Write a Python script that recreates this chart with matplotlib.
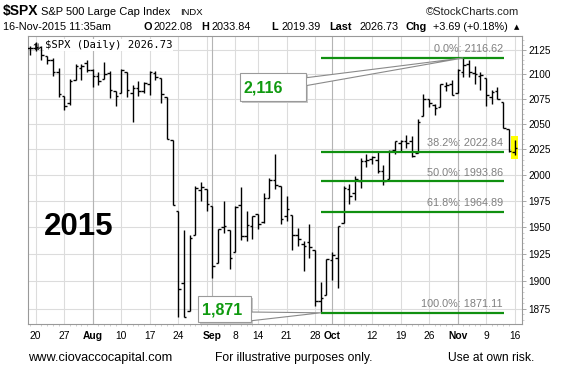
import matplotlib
matplotlib.use('Agg')
import matplotlib.pyplot as plt
from matplotlib.patches import Polygon, Rectangle
import numpy as np
import pandas as pd

W, H = 577, 373

# trading days shown (Labor Day removed)
dates = [d for d in pd.bdate_range('2015-07-17', '2015-11-16') if d != pd.Timestamp('2015-09-07')]

opens = [2126.8, 2126.9, 2127.6, 2118.2, 2114.2, 2102.2, 2078.2, 2070.8, 2094.1, 2106.8, 2111.6,
         2104.5, 2097.7, 2095.3, 2100.8, 2082.6, 2081.0, 2102.7, 2081.1, 2086.2, 2083.2,
         2089.7, 2101.4, 2095.7, 2076.6, 2034.1, 1965.2, 1898.1, 1872.8, 1942.8, 1986.1, 1986.7,
         1970.1, 1916.5, 1950.8, 1947.8, 1927.3, 1971.5, 1941.6, 1951.5, 1963.1, 1955.1, 1978.0,
         1995.3, 1989.7, 1960.8, 1961.4, 1943.2, 1934.8, 1935.9, 1929.2, 1881.9, 1887.1,
         1919.7, 1921.8, 1954.3, 1986.6, 1982.3, 1994.0, 2013.7, 2015.7, 2015.0, 2003.7, 1996.5,
         2024.4, 2031.7, 2033.1, 2033.5, 2021.9, 2058.2, 2075.1, 2068.8, 2066.5, 2088.4, 2090.0,
         2080.8, 2102.6, 2110.6, 2101.7, 2098.6, 2096.6, 2077.2, 2083.4, 2072.3, 2044.6, 2022.1]
highs = [2128.9, 2132.8, 2128.4, 2118.5, 2116.9, 2106.0, 2078.2, 2095.6, 2110.6, 2110.5, 2114.2,
         2105.7, 2102.5, 2112.7, 2103.3, 2082.6, 2105.4, 2102.7, 2089.1, 2092.9, 2092.5,
         2102.9, 2103.5, 2096.2, 2076.6, 2034.1, 1965.2, 1948.0, 1943.1, 1989.6, 1993.5, 1986.7,
         1970.1, 1948.9, 1975.0, 1947.8, 1970.4, 1988.6, 1965.3, 1961.1, 1963.1, 1983.2, 1997.3,
         2020.9, 1989.7, 1979.6, 1961.4, 1949.5, 1937.2, 1952.9, 1929.2, 1899.5, 1920.5,
         1927.2, 1951.4, 1989.2, 1991.6, 1999.3, 2016.5, 2020.1, 2018.7, 2022.3, 2009.6, 2024.2,
         2033.5, 2034.5, 2039.1, 2038.0, 2055.2, 2079.7, 2075.1, 2070.4, 2090.4, 2092.5, 2094.3,
         2105.2, 2116.6, 2114.6, 2108.8, 2101.9, 2096.6, 2083.7, 2086.9, 2072.3, 2044.6, 2033.8]
lows = [2119.9, 2123.7, 2114.0, 2110.0, 2098.6, 2077.1, 2063.5, 2069.1, 2094.1, 2094.1, 2102.1,
        2087.3, 2088.6, 2095.3, 2075.5, 2067.9, 2081.0, 2076.5, 2052.1, 2078.3, 2080.6,
        2079.3, 2094.1, 2070.5, 2035.7, 1971.0, 1867.0, 1867.1, 1872.8, 1942.8, 1975.2, 1966.0,
        1903.1, 1916.5, 1944.7, 1911.2, 1927.3, 1937.9, 1937.2, 1939.2, 1948.3, 1954.3, 1977.9,
        1986.7, 1953.5, 1955.8, 1929.2, 1932.6, 1908.9, 1921.5, 1876.9, 1871.1, 1887.1,
        1900.7, 1893.7, 1954.3, 1972.0, 1976.4, 1987.5, 2007.6, 2010.6, 2001.8, 1990.7, 1996.5,
        2020.5, 2022.3, 2026.6, 2017.2, 2021.9, 2058.2, 2066.5, 2058.8, 2066.5, 2082.6, 2079.3,
        2080.8, 2097.5, 2097.0, 2090.4, 2083.7, 2068.2, 2069.9, 2074.9, 2045.7, 2022.0, 2019.4]
closes = [2126.6, 2128.3, 2119.2, 2114.2, 2102.2, 2079.7, 2067.6, 2093.3, 2108.6, 2108.6, 2103.8,
          2098.0, 2093.3, 2099.8, 2083.6, 2077.6, 2104.2, 2084.1, 2086.1, 2083.4, 2091.5,
          2102.4, 2096.9, 2079.6, 2035.7, 1970.9, 1893.2, 1867.6, 1940.5, 1987.7, 1988.9, 1972.2,
          1913.9, 1948.9, 1951.1, 1921.2, 1969.4, 1942.0, 1952.3, 1961.1, 1953.0, 1978.1, 1995.3,
          1990.2, 1958.0, 1967.0, 1942.7, 1938.8, 1932.2, 1931.3, 1881.8, 1884.1, 1920.0,
          1923.8, 1951.4, 1987.1, 1979.9, 1995.8, 2013.4, 2014.9, 2017.5, 2003.7, 1994.2, 2023.9,
          2033.1, 2033.7, 2030.8, 2018.9, 2052.5, 2075.2, 2071.2, 2065.9, 2090.4, 2089.4, 2079.4,
          2104.1, 2109.8, 2102.3, 2099.9, 2099.2, 2078.6, 2081.7, 2075.0, 2046.0, 2023.0, 2026.7]

fib_pct = ['0.0%', '38.2%', '50.0%', '61.8%', '100.0%']
fib_val = [2116.62, 2022.84, 1993.86, 1964.89, 1871.11]
swing_high_date = '2015-11-03'
swing_low_date = '2015-09-29'
y_ticks = [1875, 1900, 1925, 1950, 1975, 2000, 2025, 2050, 2075, 2100, 2125]


def fx(x):
    return x / W


def fy(y):
    return 1 - y / H


fig = plt.figure(figsize=(W / 100, H / 100), dpi=100)
plt.rcParams['font.family'] = ['Liberation Sans', 'DejaVu Sans']
ax = fig.add_axes([fx(28), fy(324), fx(522 - 28), (324 - 36) / H])
ax.set_yscale('log')
ax.set_ylim(1861.0, 2139.2)
ax.set_xlim(-0.35, 86.3)

x = np.arange(len(dates))
hi_i = dates.index(pd.Timestamp(swing_high_date))
lo_i = dates.index(pd.Timestamp(swing_low_date))

# week / month grid and labels
week_idx, month_idx = [], []
for i, d in enumerate(dates):
    if i == 0:
        continue
    if d.month != dates[i - 1].month:
        month_idx.append(i)
    if d.weekday() < dates[i - 1].weekday():
        week_idx.append(i)
for i in y_ticks:
    ax.axhline(i, color='#dcdcdc', lw=0.8, zorder=0)
for i in week_idx:
    ax.axvline(i, color='#dcdcdc', lw=0.8, zorder=0)
for i in month_idx:
    ax.axvline(i, color='#b4b4b4', lw=0.8, zorder=0)

# OHLC bars
ax.vlines(x, lows, highs, color='black', lw=1.0, zorder=3)
ax.hlines(opens, x - 0.45, x, color='black', lw=1.0, zorder=3)
ax.hlines(closes, x, x + 0.45, color='black', lw=1.0, zorder=3)
ax.add_patch(Rectangle((x[-1] - 0.55, lows[-1] - 4), 1.1, highs[-1] - lows[-1] + 8,
                       color='#ffff00', zorder=2, lw=0))

# fibonacci retracements
for p, v in zip(fib_pct, fib_val):
    ax.hlines(v, lo_i, 83.2, color='#109010', lw=1.6, zorder=4)
    ax.annotate(p + ': ' + format(v, '.2f'), (83.2, v), xytext=(-1, 2.5), textcoords='offset points',
                ha='right', va='bottom', fontsize=7.8, color='#808080', zorder=5)

ax.set_yticks(y_ticks)
ax.set_yticklabels([str(t) for t in y_ticks])
ax.yaxis.set_minor_locator(matplotlib.ticker.FixedLocator(np.arange(1865, 2140, 5)))
ax.yaxis.set_minor_formatter(matplotlib.ticker.NullFormatter())
ax.yaxis.tick_right()
ax.tick_params(axis='y', which='major', length=3, width=0.6, color='#999999', labelsize=7.2, pad=1.5)
ax.tick_params(axis='y', which='minor', length=1.5, width=0.5, color='#bbbbbb')
ax.tick_params(axis='y', which='both', left=False)

lbl_idx = [i for i in week_idx if not any(0 < i - m < 4 for m in month_idx)] + month_idx
lbl_idx = sorted(set(i for i in lbl_idx if not any(0 < m - i < 3 for m in month_idx)))
ax.set_xticks(lbl_idx)
ax.set_xticklabels([dates[i].strftime('%b') if i in month_idx else str(dates[i].day) for i in lbl_idx])
for t, i in zip(ax.get_xticklabels(), lbl_idx):
    if i in month_idx:
        t.set_fontweight('bold')
ax.tick_params(axis='x', length=0, labelsize=7.4, pad=5)
ax.xaxis.set_minor_locator(matplotlib.ticker.FixedLocator(x))
ax.tick_params(axis='x', which='minor', length=1.5, width=0.5, color='#bbbbbb')
for s in ax.spines.values():
    s.set_color('#999999')
    s.set_linewidth(0.8)

# legend and big label
ax.text(0.008, 0.975, '\u21c5', transform=ax.transAxes, fontsize=6.5,
        va='top', ha='left', family='DejaVu Sans', zorder=6)
ax.text(0.034, 0.985, '$SPX (Daily) 2026.73', transform=ax.transAxes, fontsize=7.6, va='top', ha='left',
        family='DejaVu Sans Mono', zorder=6,
        bbox=dict(facecolor='white', edgecolor='none', pad=0.6))
fig.text(fx(79), fy(227), '2015', fontsize=22.5, fontweight='bold', ha='center', va='center')

# overlay in pixel coordinates for the callouts
ov = fig.add_axes([0, 0, 1, 1], facecolor='none')
ov.set_xlim(0, W)
ov.set_ylim(H, 0)
ov.axis('off')


def to_px(i, v):
    dx, dy = ax.transData.transform((i, v))
    return dx, H - dy


def callout(text, box, tip, base):
    x0, y0, x1, y1 = box
    ov.add_patch(Rectangle((x0 + 2, y0 + 2), x1 - x0, y1 - y0, color='#c8c8c8', lw=0))
    ov.add_patch(Polygon([(base[0], base[1]), tip, (base[0], base[2])], closed=True,
                         facecolor='white', edgecolor='#8a8a8a', lw=0.8))
    ov.add_patch(Rectangle((x0, y0), x1 - x0, y1 - y0, facecolor='white', edgecolor='#9a9a9a', lw=0.8))
    ov.text(x0 + 4, (y0 + y1) / 2 + 1, text, color='#109a10', fontsize=11.5, fontweight='bold',
            ha='left', va='center')


callout(format(int(fib_val[0]), ','), (240, 73, 306, 101), to_px(hi_i, fib_val[0]), (304, 78, 86))
callout(format(int(fib_val[-1]), ','), (198, 296, 251, 322), to_px(lo_i, fib_val[-1]), (249, 312, 321))

# header
fig.text(fx(3), fy(15), '$SPX', fontsize=10, fontweight='bold', va='baseline')
fig.text(fx(41), fy(15), 'S&P 500 Large Cap Index', fontsize=8, va='baseline')
fig.text(fx(180), fy(15), 'INDX', fontsize=6.8, va='baseline')
fig.text(fx(426), fy(15), '\u00a9StockCharts.com', fontsize=8, va='baseline', color='#222222')
row = [(3, '16-Nov-2015 11:35am', 'normal'), (144, 'O', 'bold'), (153, '2022.08', 'normal'),
       (201, 'H', 'bold'), (211, '2033.84', 'normal'), (271, 'L', 'bold'), (281, '2019.39', 'normal'),
       (329, 'Last', 'bold'), (359, '2026.73', 'normal'), (406, 'Chg', 'bold'),
       (433, '+3.69 (+0.18%)', 'normal')]
for px, s, wgt in row:
    fig.text(fx(px), fy(30), s, fontsize=7.8, fontweight=wgt, va='baseline')
fig.text(fx(514), fy(29.5), '\u25b2', fontsize=5, va='baseline', family='DejaVu Sans')

# footer
fig.text(fx(28), fy(361), 'www.ciovaccocapital.com', fontsize=9.2, va='baseline')
fig.text(fx(215), fy(361), 'For illustrative purposes only.', fontsize=8.7, va='baseline')
fig.text(fx(448), fy(361), 'Use at own risk.', fontsize=8.7, va='baseline')

fig.savefig('out.png', dpi=100)
